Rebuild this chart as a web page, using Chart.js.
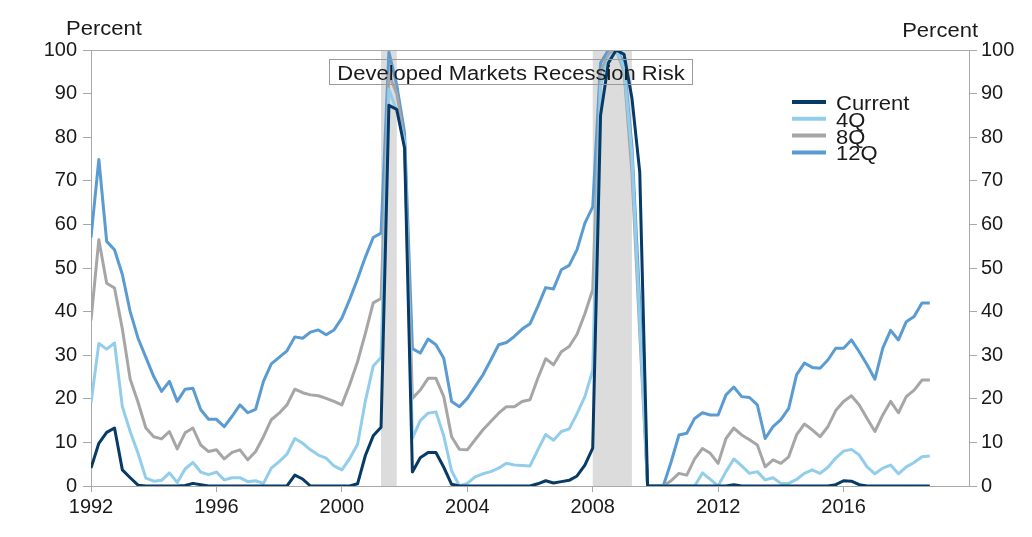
<!DOCTYPE html>
<html>
<head>
<meta charset="utf-8">
<title>Developed Markets Recession Risk</title>
<script src="https://cdn.jsdelivr.net/npm/chart.js@4/dist/chart.umd.min.js"></script>
<style>
  html, body { margin: 0; padding: 0; background: #fff; }
  #risk { display: block; }
</style>
</head>
<body>
<canvas id="risk" width="1032" height="537"></canvas>
<script>
"use strict";

/*----------------------------------------*/
/*  data (quarterly, 1992Q1 - 2018Q4)
/*----------------------------------------*/
var startYear = 1992;
var seriesNames = ["Current", "4Q", "8Q", "12Q"];

var current = [
  4.1, 9.8, 12.3, 13.3, 3.7, 1.9, 0.2, 0,
  0, 0, 0, 0, 0.1, 0.6, 0.3, 0,
  0, 0, 0, 0, 0, 0, 0, 0,
  0, 0, 2.5, 1.6, 0, 0, 0, 0,
  0, 0, 0.5, 7, 11.5, 13.5, 87.3, 86.4,
  77.5, 3.2, 6.5, 7.7, 7.7, 4.3, 0.4, 0,
  0, 0, 0, 0, 0, 0, 0, 0,
  0, 0.5, 1.2, 0.7, 1, 1.3, 2.3, 4.8,
  8.7, 85, 97, 100, 99, 89, 72, 0,
  0, 0, 0, 0, 0, 0, 0, 0,
  0, 0, 0.3, 0, 0, 0, 0, 0,
  0, 0, 0, 0, 0, 0, 0, 0.3,
  1.2, 1.1, 0.3, 0, 0, 0, 0, 0,
  0, 0, 0, 0
];

var q4 = [
  19, 32.7, 31.4, 32.8, 18.2, 12.5, 7.5, 1.8,
  1.1, 1.3, 3, 0.8, 3.9, 5.4, 3.2, 2.6,
  3.2, 1.4, 1.9, 1.9, 1, 1.2, 0.6, 4.1,
  5.6, 7.3, 10.9, 9.8, 8.3, 7.1, 6.4, 4.6,
  3.7, 6.3, 9.5, 19.5, 27.5, 29.5, 91, 86,
  79, 11, 15, 16.7, 17, 11.5, 3.5, 0,
  0.6, 2.1, 2.8, 3.3, 4.1, 5.2, 4.8, 4.7,
  4.6, 8.3, 11.8, 10.5, 12.5, 13.1, 16.6, 20.5,
  26.5, 92, 98, 100, 96, 76, 38, 0,
  0, 0, 0, 0, 0, 0, 3, 1.5,
  0, 3.3, 6.2, 4.6, 2.9, 3.3, 1.4, 1.9,
  0.6, 0.6, 1.5, 2.9, 3.7, 2.9, 4.3, 6.4,
  8, 8.4, 7.1, 4.4, 2.8, 4.1, 4.8, 2.8,
  4.4, 5.4, 6.7, 6.9
];

var q8 = [
  38, 56.5, 46.5, 45.4, 36, 24.5, 19.2, 13.3,
  11.3, 10.8, 12.5, 8.5, 12.2, 13.3, 9.4, 7.9,
  8.3, 6.2, 7.7, 8.3, 6, 7.9, 11.3, 15.2,
  16.7, 18.6, 22.2, 21.4, 20.9, 20.7, 20.1, 19.4,
  18.6, 23.3, 28.5, 35, 42, 43, 94.5, 90,
  79, 20.1, 22, 24.7, 24.7, 20.5, 11.3, 8.4,
  8.3, 10.6, 12.9, 14.8, 16.7, 18.2, 18.2, 19.4,
  19.8, 24.7, 29.2, 27.8, 30.8, 32, 34.8, 39.5,
  45, 95, 99, 100, 95, 72, 35, 0,
  0, 0, 1.2, 2.9, 2.5, 6.2, 8.6, 7.5,
  5.2, 10.9, 13.3, 11.7, 10.6, 9.4, 4.4, 6,
  5.2, 6.7, 11.7, 14.2, 12.9, 11.3, 13.6, 17.3,
  19.4, 20.7, 18.6, 15.5, 12.5, 16.3, 19.4, 16.8,
  20.5, 22, 24.3, 24.3
];

var q12 = [
  57, 74.9, 56.1, 54.2, 48.5, 40, 33.9, 29.5,
  25.1, 21.7, 24, 19.4, 22.2, 22.4, 17.5, 15.3,
  15.3, 13.6, 16, 18.6, 16.8, 17.6, 24, 28,
  29.5, 31, 34.2, 33.9, 35.3, 35.8, 34.7, 35.8,
  38.5, 42.8, 47.5, 52.5, 57, 58, 99.5, 92,
  81, 31.5, 30.5, 33.7, 32.4, 29.3, 19.4, 18.2,
  20.1, 22.8, 25.5, 28.9, 32.4, 32.9, 34.3, 36,
  37.2, 41.2, 45.5, 45.2, 49.6, 50.6, 54.2, 60.3,
  64, 97, 100, 100, 97, 78, 42, 0,
  0, 0, 5.5, 11.7, 12.1, 15.5, 16.8, 16.3,
  16.3, 20.9, 22.7, 20.5, 20.3, 18.6, 10.9, 13.6,
  15.2, 17.8, 25.5, 28.2, 27.2, 27, 28.9, 31.6,
  31.6, 33.5, 30.8, 27.8, 24.5, 31.6, 35.7, 33.5,
  37.7, 38.9, 42, 42
];

// recession periods (shaded)
var recessions = [[2001.25, 2001.75], [2008.0, 2009.25]];

var yTicks = [0, 10, 20, 30, 40, 50, 60, 70, 80, 90, 100];
var xTicks = [1992, 1996, 2000, 2004, 2008, 2012, 2016];

var colors = ["#073a66", "#92cdec", "#a6a6a6", "#5a9bd2"];
var axisColor = "#a9a9a9";
var textColor = "#1a1a1a";
var fontFamily = "'Liberation Sans', Arial, Helvetica, sans-serif";

function toPoints(arr) {
  return arr.map(function (v, i) { return { x: startYear + i * 0.25, y: v }; });
}

/*----------------------------------------*/
/*  extras: shading, frame, titles, legend
/*----------------------------------------*/
function wideText(ctx, text, x, y, align) {
  var sx = 1.1;
  var w = ctx.measureText(text).width * sx;
  var left = align === "right" ? x - w : (align === "center" ? x - w / 2 : x);
  ctx.save();
  ctx.translate(left, y);
  ctx.scale(sx, 1);
  ctx.textAlign = "left";
  ctx.fillText(text, 0, 0);
  ctx.restore();
  return w;
}

var extras = {
  id: "extras",
  beforeDatasetsDraw: function (chart) {
    var ctx = chart.ctx, a = chart.chartArea, xs = chart.scales.x;
    ctx.save();
    ctx.fillStyle = "#dcdcdc";
    recessions.forEach(function (r) {
      var x0 = xs.getPixelForValue(r[0]), x1 = xs.getPixelForValue(r[1]);
      ctx.fillRect(x0, a.top, x1 - x0, a.bottom - a.top);
    });
    ctx.restore();
  },
  afterDraw: function (chart) {
    var ctx = chart.ctx, a = chart.chartArea;
    ctx.save();
    // top frame line
    ctx.strokeStyle = axisColor;
    ctx.lineWidth = 1;
    ctx.beginPath();
    ctx.moveTo(a.left, a.top + 0.5);
    ctx.lineTo(a.right, a.top + 0.5);
    ctx.stroke();

    ctx.fillStyle = textColor;
    ctx.font = "20px " + fontFamily;
    ctx.textBaseline = "alphabetic";
    wideText(ctx, "Percent", 66, 35, "left");
    wideText(ctx, "Percent", 978, 37, "right");

    // title box
    var title = "Developed Markets Recession Risk";
    var cx = 511;
    var tw = ctx.measureText(title).width * 1.1;
    ctx.strokeStyle = "#9a9a9a";
    ctx.strokeRect(Math.round(cx - tw / 2 - 8) + 0.5, 59.5, Math.round(tw + 16), 25);
    wideText(ctx, title, cx, 80, "center");

    // legend
    seriesNames.forEach(function (name, i) {
      var y = 102 + i * 16.8;
      ctx.strokeStyle = colors[i];
      ctx.lineWidth = 4;
      ctx.beginPath();
      ctx.moveTo(792, y);
      ctx.lineTo(826, y);
      ctx.stroke();
      ctx.fillStyle = textColor;
      wideText(ctx, name, 836, y + 8, "left");
    });
    ctx.restore();
  }
};

/*----------------------------------------*/
/*  chart
/*----------------------------------------*/
var datasets = [current, q4, q8, q12].map(function (arr, i) {
  return {
    label: seriesNames[i],
    data: toPoints(arr),
    borderColor: colors[i],
    backgroundColor: colors[i],
    borderWidth: 3,
    pointRadius: 0,
    tension: 0,
    borderJoinStyle: "round",
    fill: false
  };
});

function yAxis(pos, width, pad) {
  return {
    type: "linear",
    position: pos,
    min: 0,
    max: 100,
    afterFit: function (s) { s.width = width; },
    afterBuildTicks: function (s) { s.ticks = yTicks.map(function (v) { return { value: v }; }); },
    ticks: {
      color: textColor,
      padding: pad,
      font: { family: fontFamily, size: 20 },
      callback: function (v) { return String(v); }
    },
    grid: { drawOnChartArea: false, tickLength: 8, tickColor: axisColor, tickWidth: 1 },
    border: { display: true, color: axisColor, width: 1 }
  };
}

var ctx = document.getElementById("risk");
var riskChart = new Chart(ctx, {
  type: "line",
  data: { datasets: datasets },
  options: {
    responsive: false,
    animation: false,
    devicePixelRatio: 1,
    layout: { padding: { top: 50, left: 0, right: 0, bottom: 0 } },
    plugins: {
      legend: { display: false },
      title: { display: false },
      tooltip: { enabled: false }
    },
    scales: {
      x: {
        type: "linear",
        min: 1992,
        max: 2020,
        afterFit: function (s) { s.height = 51; },
        afterBuildTicks: function (s) { s.ticks = xTicks.map(function (v) { return { value: v }; }); },
        ticks: {
          color: textColor,
          padding: 3,
          maxRotation: 0,
          autoSkip: false,
          font: { family: fontFamily, size: 20 },
          callback: function (v) { return String(v); }
        },
        grid: { drawOnChartArea: false, tickLength: 6, tickColor: axisColor, tickWidth: 1 },
        border: { display: true, color: axisColor, width: 1 }
      },
      y: yAxis("left", 91, 6),
      y2: yAxis("right", 63, 4)
    }
  },
  plugins: [extras]
});
</script>
</body>
</html>
